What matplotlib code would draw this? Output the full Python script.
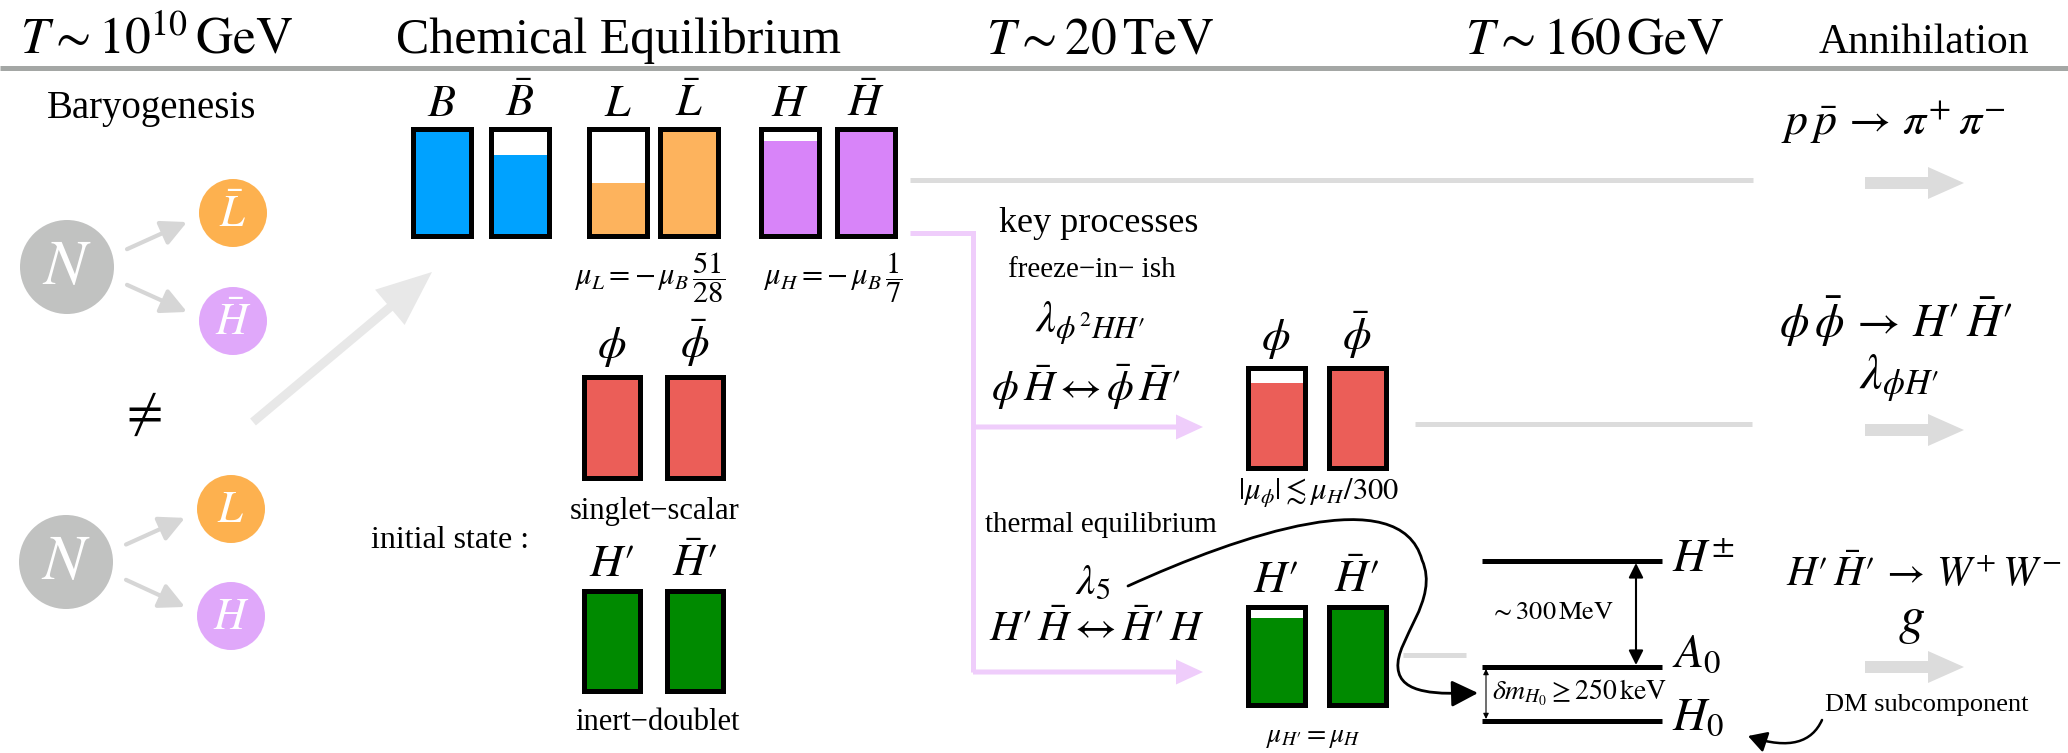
import matplotlib
matplotlib.use("Agg")
import matplotlib.pyplot as plt
from matplotlib.patches import Circle, FancyArrow, FancyArrowPatch
from matplotlib.path import Path

plt.rcParams['font.family'] = ['Liberation Serif', 'DejaVu Serif']
plt.rcParams['mathtext.fontset'] = 'stix'

# ---- data ----
headers = [r'$T \sim 10^{10}\,\mathrm{GeV}$', 'Chemical Equilibrium',
           r'$T \sim 20\,\mathrm{TeV}$', r'$T \sim 160\,\mathrm{GeV}$', 'Annihilation']

sm_labels = [r'$B$', r'$\bar{B}$', r'$L$', r'$\bar{L}$', r'$H$', r'$\bar{H}$']
sm_fill = [1.0, 0.76, 0.50, 1.0, 0.89, 1.0]

phi_labels = [r'$\phi$', r'$\bar{\phi}$']
phi_fill_init = [1.0, 1.0]
phi_fill_late = [0.85, 1.0]

inert_labels = [r'$H′$', r'$\bar{H}′$']
inert_fill_init = [1.0, 1.0]
inert_fill_late = [0.89, 1.0]

decay_top = [r'$N$', r'$\bar{L}$', r'$\bar{H}$']
decay_bot = [r'$N$', r'$L$', r'$H$']

levels = [r'$H^{\pm}$', r'$A_0$', r'$H_0$']

annihilations = [r'$p\,\bar{p}\,\rightarrow\,\pi^{+}\,\pi^{-}$',
                 r'$\phi\,\bar{\phi}\,\rightarrow\,H′\,\bar{H}′$',
                 r'$H′\,\bar{H}′\,\rightarrow\,W^{+}\,W^{-}$']
couplings = [r'$\lambda_{\phi H′}$', r'$g$']

# ---- colours ----
BLUE = '#00a2ff'
ORANGE = '#fdb35d'
PURPLE = '#d884f9'
RED = '#eb5e58'
GREEN = '#008a00'
NGRAY = '#c1c2c1'
LORANGE = '#fdb14f'
LPURPLE = '#e0a8fa'
PINK = '#efcdfb'
LGRAY = '#dcdcdc'

fig = plt.figure(figsize=(20.68, 7.53), dpi=100)
ax = fig.add_axes([0, 0, 1, 1])
ax.set_xlim(0, 2068)
ax.set_ylim(753, 0)
ax.axis('off')


def draw_bars(xs, top, bot, w, fills, color):
    h = bot - top
    for x, f in zip(xs, fills):
        ax.bar(x, f * h, w, bottom=bot - f * h, color=color, lw=0, zorder=2)
        ax.bar(x, h, w, bottom=top, fill=False, edgecolor='black', lw=3.6, zorder=3)


# header
head_x = [156, 619, 1100, 1595, 1924]
head_fs = [37, 36, 37, 37, 30]
for x, s, fs in zip(head_x, headers, head_fs):
    ax.text(x, 53, s, fontsize=fs, ha='center', va='baseline')
ax.plot([0, 2068], [68, 68], color='#a4a7a5', lw=3.6, solid_capstyle='butt')

# baryogenesis
ax.text(152, 118, 'Baryogenesis', fontsize=28, ha='center', va='baseline')
for (cx, cy), (lx, ly1), (_, ly2), names in [((67, 267), (233, 213), (233, 321), decay_top),
                                               ((66, 562), (231, 509), (231, 616), decay_bot)]:
    ax.add_patch(Circle((cx, cy), 47, color=NGRAY, lw=0))
    ax.text(cx, cy + 2, names[0], color='white', fontsize=46, ha='center', va='center')
    ax.add_patch(Circle((lx, ly1), 34, color=LORANGE, lw=0))
    ax.text(lx, ly1 + 2, names[1], color='white', fontsize=32, ha='center', va='center')
    ax.add_patch(Circle((lx, ly2), 34, color=LPURPLE, lw=0))
    ax.text(lx, ly2 + 2, names[2], color='white', fontsize=32, ha='center', va='center')
    for ty in (ly1, ly2):
        sy = cy + (ty - cy) * 0.33
        ax.annotate('', xy=(lx - 46, ty + (sy - ty) * 0.25), xytext=(cx + 60, sy),
                    arrowprops=dict(arrowstyle='-|>,head_length=0.7,head_width=0.35',
                                    color='#d6d6d6', lw=3, mutation_scale=22,
                                    shrinkA=0, shrinkB=0))
ax.text(141, 415, r'$\neq$', fontsize=38, ha='center', va='center')
ax.add_patch(FancyArrow(253, 422, 432 - 253, 272 - 422, width=9, head_width=46,
                        head_length=55, length_includes_head=True, color='#e8e8e8', lw=0))

# chemical equilibrium bars
sm_x = [442, 520, 618, 689, 790, 866]
sm_col = [BLUE, BLUE, ORANGE, ORANGE, PURPLE, PURPLE]
for x, lab, f, c in zip(sm_x, sm_labels, sm_fill, sm_col):
    draw_bars([x], 129, 236, 58, [f], c)
    ax.text(x, 116, lab, fontsize=33, ha='center', va='baseline')
ax.text(650, 278, r'$\mu_L = -\,\mu_B\,\dfrac{51}{28}$', fontsize=22, ha='center', va='center')
ax.text(833, 278, r'$\mu_H = -\,\mu_B\,\dfrac{1}{7}$', fontsize=22, ha='center', va='center')

left_x = [612, 695]
draw_bars(left_x, 377, 478, 56, phi_fill_init, RED)
for x, lab in zip(left_x, phi_labels):
    ax.text(x, 358, lab, fontsize=33, ha='center', va='baseline')
ax.text(655, 512, 'singlet\u2212scalar', fontsize=22, ha='center', va='center')
ax.text(450, 540, 'initial state :', fontsize=23, ha='center', va='center')
draw_bars(left_x, 591, 691, 56, inert_fill_init, GREEN)
for x, lab in zip(left_x, inert_labels):
    ax.text(x, 576, lab, fontsize=33, ha='center', va='baseline')
ax.text(658, 723, 'inert\u2212doublet', fontsize=22, ha='center', va='center')

# flows out of chemical equilibrium
ax.plot([910, 1753], [180, 180], color=LGRAY, lw=3.6, solid_capstyle='butt')
ax.plot([910, 973, 973], [233, 233, 672], color=PINK, lw=3.6, solid_joinstyle='miter',
        solid_capstyle='butt')
for y in (427, 672):
    ax.add_patch(FancyArrow(973, y, 230, 0, width=5, head_width=25, head_length=27,
                            length_includes_head=True, color=PINK, lw=0))

# key processes
ax.text(1099, 232, 'key processes', fontsize=26, ha='center', va='baseline')
ax.text(1092, 270, 'freeze\u2212in\u2212 ish', fontsize=21, ha='center', va='center')
ax.text(1090, 323, r'$\lambda_{\phi^2 HH′}$', fontsize=32, ha='center', va='center')
ax.text(1086, 387, r'$\phi\,\bar{H}\leftrightarrow\bar{\phi}\,\bar{H}′$', fontsize=31,
        ha='center', va='center')
ax.text(1101, 525, 'thermal equilibrium', fontsize=21, ha='center', va='center')
ax.text(1093, 584, r'$\lambda_5$', fontsize=31, ha='center', va='center')
ax.text(1097, 630, r'$H′\,\bar{H}\leftrightarrow\bar{H}′\,H$', fontsize=31,
        ha='center', va='center')

# after key processes
mid_x = [1276, 1357]
draw_bars(mid_x, 368, 468, 57, phi_fill_late, RED)
for x, lab in zip(mid_x, phi_labels):
    ax.text(x, 350, lab, fontsize=33, ha='center', va='baseline')
ax.text(1319, 492, r'$|\mu_\phi|\lesssim\mu_H/300$', fontsize=22, ha='center', va='center')
draw_bars(mid_x, 607, 705, 57, inert_fill_late, GREEN)
for x, lab in zip(mid_x, inert_labels):
    ax.text(x, 592, lab, fontsize=33, ha='center', va='baseline')
ax.text(1313, 737, r'$\mu_{H′} = \mu_H$', fontsize=20, ha='center', va='center')

ax.plot([1415, 1752], [424, 424], color=LGRAY, lw=3.6, solid_capstyle='butt')
ax.plot([1403, 1466], [655, 655], color=LGRAY, lw=3.6, solid_capstyle='butt')

# lambda_5 curve to the mass splitting
verts = [(1128, 586), (1240, 535), (1400, 480), (1422, 560),
         (1440, 600), (1395, 640), (1398, 668),
         (1400, 695), (1440, 694), (1478, 693)]
codes = [Path.MOVETO] + [Path.CURVE4] * 9
ax.add_patch(FancyArrowPatch(path=Path(verts, codes),
                             arrowstyle='-|>,head_length=0.9,head_width=0.45',
                             mutation_scale=18, color='black', lw=2))

# mass spectrum
lev_y = [561, 667, 721]
for y, lab, base in zip(lev_y, levels, [572, 667, 730]):
    ax.plot([1482, 1662], [y, y], color='black', lw=3.6, solid_capstyle='butt')
    ax.text(1672, base, lab, fontsize=34, ha='left', va='baseline')
ax.annotate('', xy=(1636, 563), xytext=(1636, 665),
            arrowprops=dict(arrowstyle='<|-|>', color='black', lw=1.5, mutation_scale=22,
                            shrinkA=0, shrinkB=0))
ax.annotate('', xy=(1486, 669), xytext=(1486, 719),
            arrowprops=dict(arrowstyle='<|-|>', color='black', lw=0.8, mutation_scale=8,
                            shrinkA=0, shrinkB=0))
ax.text(1552, 613, r'$\sim 300\,\mathrm{MeV}$', fontsize=19, ha='center', va='center')
ax.text(1492, 693, r'$\delta m_{H_0} \geq 250\,\mathrm{keV}$', fontsize=20, ha='left', va='center')

# annihilation column
ann_y = [123, 322, 575]
ann_x = [1893, 1896, 1924]
ann_fs = [33, 34, 30]
for x, y, s, fs in zip(ann_x, ann_y, annihilations, ann_fs):
    ax.text(x, y, s, fontsize=fs, ha='center', va='center')
ax.text(1899, 378, couplings[0], fontsize=36, ha='center', va='center')
ax.text(1911, 622, couplings[1], fontsize=38, ha='center', va='center')
for y in (183, 430, 667):
    ax.add_patch(FancyArrow(1865, y, 99, 0, width=12, head_width=32, head_length=36,
                            length_includes_head=True, color=LGRAY, lw=0))
ax.text(1927, 705, 'DM subcomponent', fontsize=19, ha='center', va='center')
dm_path = Path([(1822, 720), (1812, 742), (1790, 750), (1748, 736)],
               [Path.MOVETO, Path.CURVE4, Path.CURVE4, Path.CURVE4])
ax.add_patch(FancyArrowPatch(path=dm_path, arrowstyle='-|>,head_length=0.7,head_width=0.4',
                             mutation_scale=16, color='black', lw=1.8))

fig.savefig('out.png', dpi=100)
